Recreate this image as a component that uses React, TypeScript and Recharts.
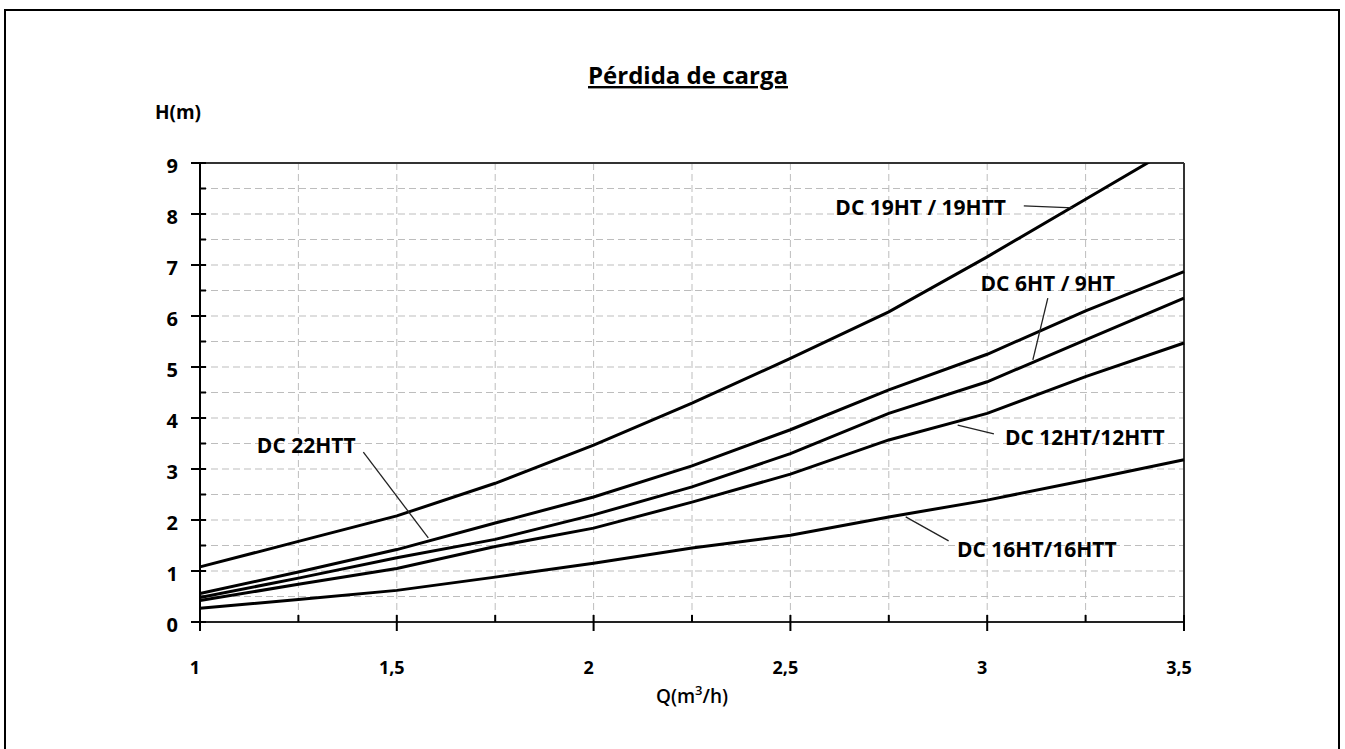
import React from 'react';
import { LineChart, Line, XAxis, YAxis, CartesianGrid, ReferenceLine, ReferenceDot } from 'recharts';

const flow = [1, 1.25, 1.5, 1.75, 2, 2.25, 2.5, 2.75, 3, 3.25, 3.5];
const dc19 = [1.08, 1.58, 2.08, 2.72, 3.47, 4.29, 5.17, 6.08, 7.16, 8.29, 9.42];
const dc22 = [0.56, 0.98, 1.42, 1.94, 2.45, 3.06, 3.77, 4.55, 5.25, 6.1, 6.87];
const dc6 = [0.48, 0.86, 1.26, 1.62, 2.1, 2.65, 3.3, 4.09, 4.71, 5.53, 6.35];
const dc12 = [0.42, 0.74, 1.05, 1.48, 1.84, 2.35, 2.9, 3.57, 4.09, 4.81, 5.47];
const dc16 = [0.27, 0.44, 0.62, 0.88, 1.15, 1.45, 1.7, 2.06, 2.39, 2.78, 3.18];

const yTicks = [0, 0.5, 1, 1.5, 2, 2.5, 3, 3.5, 4, 4.5, 5, 5.5, 6, 6.5, 7, 7.5, 8, 8.5, 9];

const seriesKeys = ['dc19', 'dc22', 'dc6', 'dc12', 'dc16'];

const data = flow.map((q, i) => ({
  q,
  dc19: dc19[i],
  dc22: dc22[i],
  dc6: dc6[i],
  dc12: dc12[i],
  dc16: dc16[i],
}));

const labelTexts = ['DC 19HT / 19HTT', 'DC 6HT / 9HT', 'DC 12HT/12HTT', 'DC 16HT/16HTT', 'DC 22HTT'];
const labelQ = [2.831, 3.154, 3.248, 3.126, 1.27];
const labelH = [8.14, 6.65, 3.63, 1.43, 3.47];
const pointerFromQ = [3.093, 3.154, 3.017, 2.902, 1.415];
const pointerFromH = [8.16, 6.35, 3.69, 1.59, 3.33];
const pointerToQ = [3.218, 3.116, 2.925, 2.793, 1.58];
const pointerToH = [8.12, 5.14, 3.86, 2.06, 1.65];

const FONT = "'Open Sans', sans-serif";

const fmt = (v: number) => String(v).replace('.', ',');

const YTick = (props: any) => {
  const { x, y, payload } = props;
  const v = payload.value as number;
  const major = Number.isInteger(v);
  return (
    <g>
      <line x1={major ? x - 9 : x} x2={x + 6} y1={y} y2={y} stroke="#000" strokeWidth={2} />
      {major && (
        <text x={x - 22} y={y + 2} textAnchor="end" dominantBaseline="central" fontFamily={FONT} fontWeight={700} fontSize={20} fill="#000">
          {v}
        </text>
      )}
    </g>
  );
};

const XTick = (props: any) => {
  const { x, y, payload } = props;
  const v = payload.value as number;
  const major = Math.abs(v * 2 - Math.round(v * 2)) < 1e-6;
  return (
    <g>
      <line x1={x} x2={x} y1={y - 7} y2={major ? y + 9 : y} stroke="#000" strokeWidth={2} />
      {major && (
        <text x={x - 5} y={y + 45} textAnchor="middle" dominantBaseline="central" fontFamily={FONT} fontWeight={700} fontSize={18} fill="#000">
          {fmt(v)}
        </text>
      )}
    </g>
  );
};

export default function App() {
  return (
    <div style={{ position: 'absolute', left: 0, top: 0, width: 1345, height: 749, overflow: 'hidden', background: '#fff' }}>
      <div
        style={{
          position: 'absolute',
          left: 4,
          top: 9,
          width: 1336,
          height: 760,
          border: '2px solid #000',
          boxSizing: 'border-box',
        }}
      />
      <div style={{ position: 'absolute', left: 0, top: 0 }}>
        <LineChart width={1345} height={749} data={data} margin={{ top: 163, right: 161, left: 0, bottom: 0 }}>
          <CartesianGrid stroke="#bdbdbd" strokeWidth={1} strokeDasharray="7 4" />
          <XAxis
            type="number"
            dataKey="q"
            domain={[1, 3.5]}
            ticks={flow}
            interval={0}
            height={127}
            tickSize={0}
            tickMargin={0}
            tickLine={false}
            axisLine={{ stroke: '#222', strokeWidth: 2 }}
            tick={<XTick />}
          />
          <YAxis
            type="number"
            domain={[0, 9]}
            ticks={yTicks}
            interval={0}
            allowDataOverflow
            width={200}
            tickSize={0}
            tickMargin={0}
            tickLine={false}
            axisLine={{ stroke: '#000', strokeWidth: 2 }}
            tick={<YTick />}
          />
          <ReferenceLine y={9} stroke="#333" strokeWidth={2} ifOverflow="visible" />
          <ReferenceLine x={3.5} stroke="#333" strokeWidth={2} ifOverflow="visible" />
          {seriesKeys.map((k) => (
            <Line key={k} dataKey={k} type="linear" stroke="#000" strokeWidth={3} dot={false} activeDot={false} isAnimationActive={false} />
          ))}
          {labelTexts.map((t, i) => (
            <ReferenceLine
              key={'p' + i}
              segment={[
                { x: pointerFromQ[i], y: pointerFromH[i] },
                { x: pointerToQ[i], y: pointerToH[i] },
              ]}
              stroke="#222"
              strokeWidth={1.3}
            />
          ))}
          {labelTexts.map((t, i) => (
            <ReferenceDot
              key={'l' + i}
              x={labelQ[i]}
              y={labelH[i]}
              r={0}
              shape={(p: any) => (
                <text x={p.cx} y={p.cy} textAnchor="middle" dominantBaseline="central" fontFamily={FONT} fontWeight={700} fontSize={21} fill="#000">
                  {t}
                </text>
              )}
            />
          ))}
        </LineChart>
      </div>
      <svg width={1345} height={749} style={{ position: 'absolute', left: 0, top: 0, pointerEvents: 'none' }}>
        <text x={688} y={84} textAnchor="middle" fontFamily={FONT} fontWeight={700} fontSize={24} fill="#000" style={{ textDecoration: 'underline' }}>
          Pérdida de carga
        </text>
        <text x={178} y={119} textAnchor="middle" fontFamily={FONT} fontWeight={700} fontSize={19} fill="#000">
          H(m)
        </text>
        <text x={692} y={703} textAnchor="middle" fontFamily={FONT} fontWeight={600} fontSize={19} fill="#000">
          Q(m<tspan dy={-8} fontSize={13}>3</tspan>
          <tspan dy={8}>/h)</tspan>
        </text>
      </svg>
    </div>
  );
}
